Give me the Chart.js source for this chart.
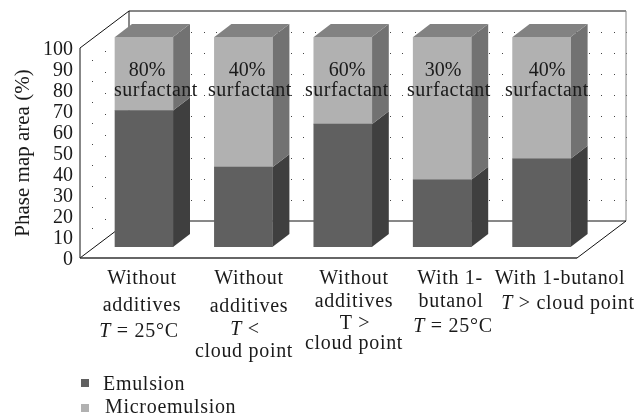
<!DOCTYPE html>
<html>
<head>
<meta charset="utf-8">
<style>
  html, body { margin: 0; padding: 0; background: #fff; }
  .chart-container { width: 639px; height: 414px; }
</style>
<script src="https://cdn.jsdelivr.net/npm/chart.js@4"></script>
</head>
<body>
<div class="chart-container"><canvas id="chart" width="639" height="414"></canvas></div>
<script>
const categories = ["Without additives T = 25°C", "Without additives T < cloud point", "Without additives T > cloud point", "With 1-butanol T = 25°C", "With 1-butanol T > cloud point"];
const emulsion = [65, 38, 58.5, 32, 42];
const microemulsion = [35, 62, 41.5, 68, 58];
const surfactantShare = ["80%", "40%", "60%", "30%", "40%"];
const categoryLines = [
  ["Without", "additives", "*T* = 25°C"],
  ["Without", "additives", "*T* <", "cloud point"],
  ["Without", "additives", "T >", "cloud point"],
  ["With 1-", "butanol", "*T* = 25°C"],
  ["With 1-butanol", "*T* > cloud point"],
];

// where the labels sit in the original, they don't follow the ticks
const lineX = [[142, 142, 139], [249, 249, 245, 244], [354, 354, 355, 354], [450, 451, 453], [560, 568]];
const lineY = [[279, 306, 332], [279, 307, 330, 352], [279, 302, 324, 344], [279, 302, 327], [279, 304]];
const shareX = [147, 247, 347, 443, 547];
const wordX = [156, 250, 347, 449, 547];

const SERIF = '"Liberation Serif", serif';
const wall = { dx: 49, dy: -37 };   // depth of the box
const bar = { dx: 17, dy: -13 };    // depth of a bar
const inset = { dx: 14.3, dy: -11 }; // bars stand a bit behind the front edge

const sideColors = ["#3f3f3f", "#727272"];
const topColor = "#828282";

function poly(ctx, pts, fill) {
  ctx.beginPath();
  pts.forEach((p, i) => (i ? ctx.lineTo(p[0], p[1]) : ctx.moveTo(p[0], p[1])));
  ctx.closePath();
  ctx.fillStyle = fill;
  ctx.fill();
}

function line(ctx, x1, y1, x2, y2, color, width) {
  ctx.beginPath();
  ctx.moveTo(x1, y1);
  ctx.lineTo(x2, y2);
  ctx.strokeStyle = color || "#111";
  ctx.lineWidth = width || 1;
  ctx.stroke();
}

function drawMixedLine(ctx, text, cx, y) {
  const parts = text.split("*");
  const fonts = parts.map((_, i) => (i % 2 ? "italic " : "") + "20px " + SERIF);
  let w = 0;
  parts.forEach((p, i) => { ctx.font = fonts[i]; w += ctx.measureText(p).width; });
  let x = cx - w / 2;
  parts.forEach((p, i) => {
    ctx.font = fonts[i];
    ctx.fillText(p, x, y);
    x += ctx.measureText(p).width;
  });
}

const box3d = {
  id: "box3d",
  beforeDatasetsDraw(chart) {
    const { ctx, chartArea: a, scales } = chart;
    const y = scales.y;
    ctx.save();
    // dotted grid on the back wall and the left wall
    ctx.fillStyle = "#444";
    y.ticks.forEach((t) => {
      if (t.value === 0 || t.value === 100) return;
      const py = y.getPixelForValue(t.value);
      for (let i = 0; i <= 40; i++) {
        ctx.fillRect(Math.round(a.left + wall.dx + i * (a.width / 40)), Math.round(py + wall.dy), 1, 1);
      }
      for (let i = 1; i < 4; i++) {
        ctx.fillRect(Math.round(a.left + (i * wall.dx) / 4), Math.round(py + (i * wall.dy) / 4), 1, 1);
      }
    });
    // box outline
    line(ctx, a.left, a.bottom, a.left, a.top);
    line(ctx, a.left, a.top, a.left + wall.dx, a.top + wall.dy);
    line(ctx, a.left + wall.dx, a.top + wall.dy, a.right + wall.dx, a.top + wall.dy);
    line(ctx, a.left + wall.dx, a.top + wall.dy, a.left + wall.dx, a.bottom + wall.dy);
    line(ctx, a.right + wall.dx, a.top + wall.dy, a.right + wall.dx, a.bottom + wall.dy, "#888");
    line(ctx, a.left + wall.dx, a.bottom + wall.dy, a.right + wall.dx, a.bottom + wall.dy);
    line(ctx, a.left, a.bottom, a.left + wall.dx, a.bottom + wall.dy);
    line(ctx, a.right, a.bottom, a.right + wall.dx, a.bottom + wall.dy);
    line(ctx, a.left, a.bottom, a.right, a.bottom, "#333", 1.5);

    // side and top faces of the bars, the fronts come from chart.js
    ctx.translate(inset.dx, inset.dy);
    chart.data.datasets.forEach((ds, i) => {
      chart.getDatasetMeta(i).data.forEach((el) => {
        const r = el.x + el.width / 2;
        const l = el.x - el.width / 2;
        poly(ctx, [[r, el.y], [r + bar.dx, el.y + bar.dy], [r + bar.dx, el.base + bar.dy], [r, el.base]], sideColors[i]);
        if (i === chart.data.datasets.length - 1) {
          poly(ctx, [[l, el.y], [l + bar.dx, el.y + bar.dy], [r + bar.dx, el.y + bar.dy], [r, el.y]], topColor);
        }
      });
    });
    ctx.restore();
    ctx.save();
    ctx.translate(inset.dx, inset.dy);
  },
  afterDatasetsDraw(chart) {
    const { ctx } = chart;
    ctx.restore();
    ctx.save();
    ctx.fillStyle = "#1a1a1a";
    ctx.textBaseline = "middle";

    // labels over the bars
    ctx.textAlign = "center";
    ctx.font = "20px " + SERIF;
    surfactantShare.forEach((s, i) => {
      ctx.fillText(s, shareX[i], 71);
      ctx.letterSpacing = "0.5px";
      ctx.fillText("surfactant", wordX[i], 91);
      ctx.letterSpacing = "0px";
    });

    // category labels, italic T needs its own run
    ctx.textAlign = "left";
    ctx.letterSpacing = "0.7px";
    categoryLines.forEach((lines, i) => {
      lines.forEach((t, j) => drawMixedLine(ctx, t, lineX[i][j], lineY[i][j]));
    });

    // legend
    ctx.font = "20px " + SERIF;
    chart.data.datasets.forEach((ds, i) => {
      const ly = [383, 408][i];
      ctx.fillStyle = ds.backgroundColor;
      ctx.fillRect(81, ly - 4, 8, 8);
      ctx.fillStyle = "#1a1a1a";
      ctx.fillText(ds.label, [103, 105][i], [385, 408][i]);
    });
    ctx.restore();
  },
};

new Chart(document.getElementById("chart").getContext("2d"), {
  type: "bar",
  data: {
    labels: categories,
    datasets: [
      { label: "Emulsion", data: emulsion, backgroundColor: "#606060", borderWidth: 0, barThickness: 58 },
      { label: "Microemulsion", data: microemulsion, backgroundColor: "#b1b1b1", borderWidth: 0, barThickness: 58 },
    ],
  },
  options: {
    responsive: false,
    animation: false,
    layout: { padding: { top: 48, right: 62, bottom: 156, left: 0 } },
    plugins: { legend: { display: false }, tooltip: { enabled: false } },
    scales: {
      x: { stacked: true, display: false },
      y: {
        stacked: true,
        min: 0,
        max: 100,
        afterFit(scale) { scale.width = 80; },
        grid: { display: false, drawTicks: false },
        border: { display: false },
        ticks: { stepSize: 10, autoSkip: false, padding: 7, labelOffset: 2, color: "#1a1a1a", font: { family: SERIF, size: 20 } },
        title: { display: true, text: "Phase map area (%)", color: "#1a1a1a", padding: { top: 11, bottom: 0 }, font: { family: SERIF, size: 21 } },
      },
    },
  },
  plugins: [box3d],
});
</script>
</body>
</html>
